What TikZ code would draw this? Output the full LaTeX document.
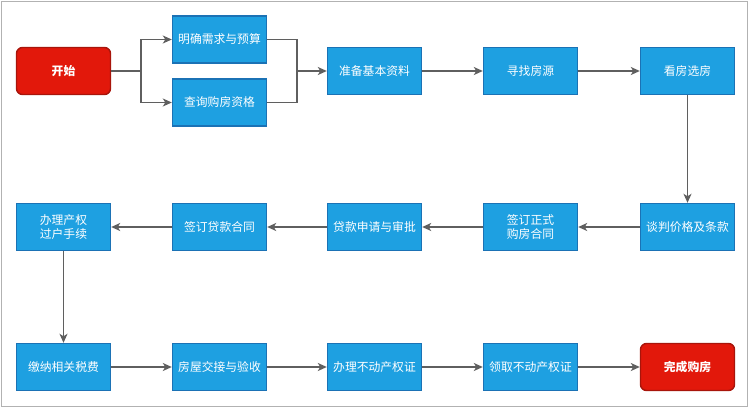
\documentclass[tikz,border=0pt]{standalone}
\usepackage{fontspec}
\setmainfont{Noto Sans CJK SC}
\usepackage{tikz}
\usetikzlibrary{arrows.meta}
\definecolor{boxblue}{HTML}{1EA0E1}
\definecolor{boxline}{HTML}{1B72B5}
\definecolor{endred}{HTML}{E2180B}
\definecolor{endline}{HTML}{A8150B}
\definecolor{flowgray}{HTML}{5F5F5F}
\tikzset{%
  stepbox/.style={draw=boxline,line width=1.4pt,fill=boxblue,text=white,minimum width=94pt,minimum height=47pt,inner sep=1pt,align=center,font=\fontsize{11.8pt}{14pt}\selectfont},
  endbox/.style={stepbox,draw=endline,fill=endred,rounded corners=6pt,font=\fontsize{11.8pt}{14pt}\selectfont\bfseries},
  flow/.style={draw=flowgray,line width=1.9pt,-{Stealth[length=9pt,width=8pt,inset=2.5pt]}},
  link/.style={draw=flowgray,line width=1.9pt}
}
\begin{document}
\begin{tikzpicture}[x=1pt,y=-1pt]
  \useasboundingbox (0,0) rectangle (750,407);
  \draw[draw=black!30,line width=1pt] (1,1) rectangle (747,406);
  \path
    (63.5,71)   node[endbox]  (s_1) {开始}
    (219.5,39.5) node[stepbox] (s_2) {明确需求与预算}
    (219.5,102.5) node[stepbox] (s_3) {查询购房资格}
    (374.5,71)  node[stepbox] (s_4) {准备基本资料}
    (530.5,71)  node[stepbox] (s_5) {寻找房源}
    (687.5,71)  node[stepbox] (s_6) {看房选房}
    (687.5,227) node[stepbox] (s_7) {谈判价格及条款}
    (530.5,227) node[stepbox] (s_8) {签订正式\\购房合同}
    (374.5,227) node[stepbox] (s_9) {贷款申请与审批}
    (219.5,227) node[stepbox] (s_10) {签订贷款合同}
    (63.5,227)  node[stepbox] (s_11) {办理产权\\过户手续}
    (63.5,367)  node[stepbox] (s_12) {缴纳相关税费}
    (219.5,367) node[stepbox] (s_13) {房屋交接与验收}
    (374.5,367) node[stepbox] (s_14) {办理不动产权证}
    (530.5,367) node[stepbox] (s_15) {领取不动产权证}
    (687.5,367) node[endbox]  (s_16) {完成购房};
  \coordinate (fork) at (141,71);
  \coordinate (join) at (297,71);
  % fork and join
  \draw[link] (s_1) -- (fork);
  \draw[flow] (fork) |- (s_2);
  \draw[flow] (fork) |- (s_3);
  \draw[link] (s_2) -| (join);
  \draw[link] (s_3) -| (join);
  \draw[flow] (join) -- (s_4);
  % main chain
  \draw[flow] (s_4) -- (s_5);
  \draw[flow] (s_5) -- (s_6);
  \draw[flow] (s_6) -- (s_7);
  \draw[flow] (s_7) -- (s_8);
  \draw[flow] (s_8) -- (s_9);
  \draw[flow] (s_9) -- (s_10);
  \draw[flow] (s_10) -- (s_11);
  \draw[flow] (s_11) -- (s_12);
  \draw[flow] (s_12) -- (s_13);
  \draw[flow] (s_13) -- (s_14);
  \draw[flow] (s_14) -- (s_15);
  \draw[flow] (s_15) -- (s_16);
\end{tikzpicture}
\end{document}
